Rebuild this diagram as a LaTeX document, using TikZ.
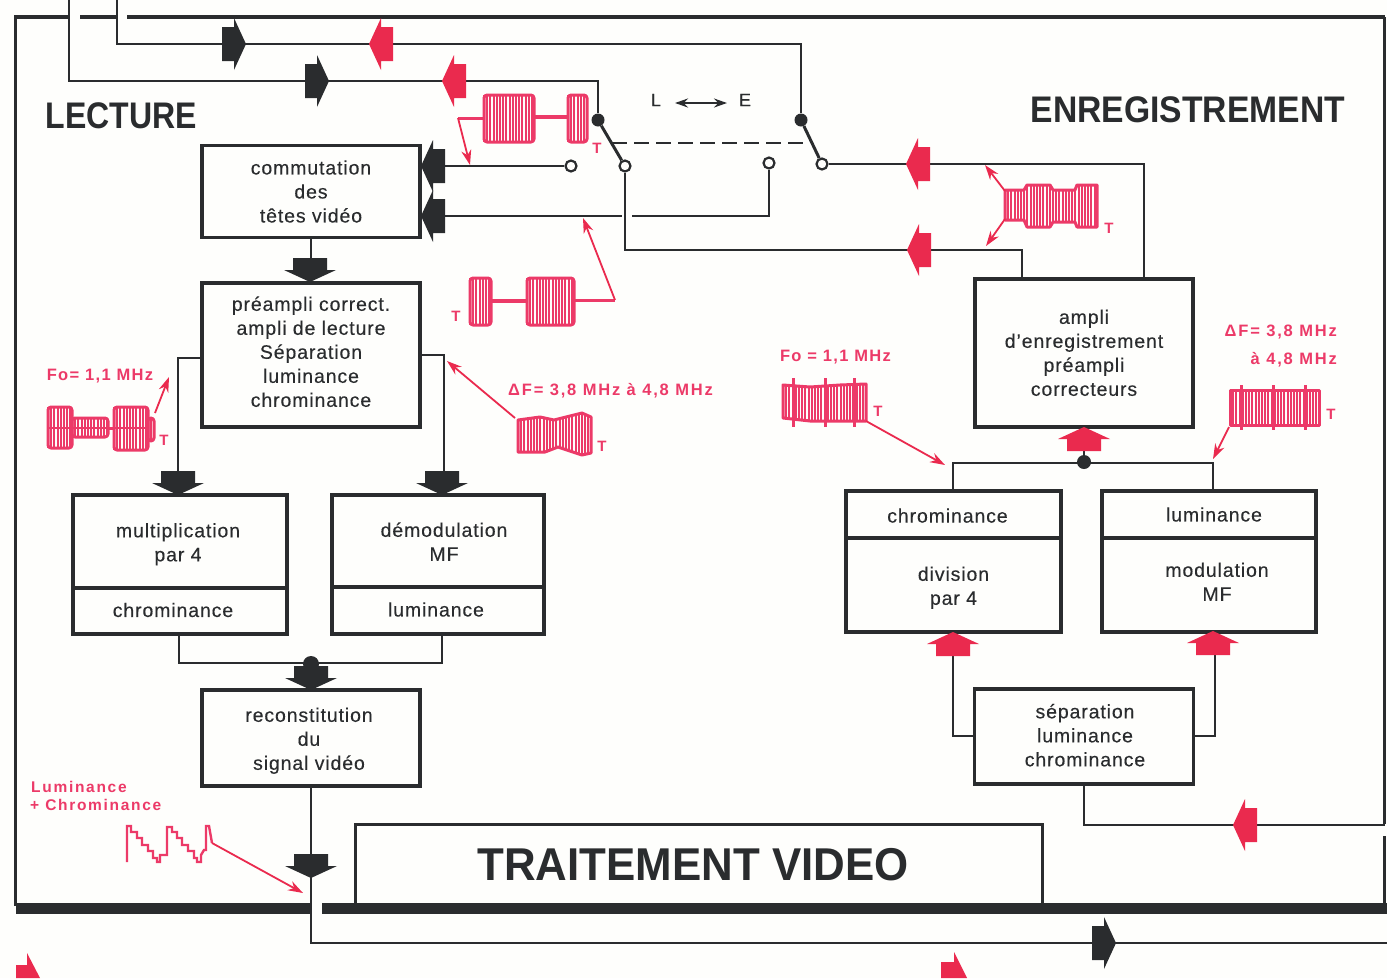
\documentclass[tikz,border=0pt]{standalone}
\usepackage{fontspec}
\usepackage{graphicx}
\setmainfont[LetterSpace=4.5,FakeBold=0.25]{Liberation Sans}
\newfontfamily\redf[LetterSpace=11]{Liberation Sans}
\newfontfamily\redg[LetterSpace=8]{Liberation Sans}
\newfontfamily\titlef{Liberation Sans}
\usetikzlibrary{arrows.meta,calc}
\definecolor{ink}{HTML}{2A2C2E}
\definecolor{red1}{HTML}{EA2A4E}
\definecolor{red2}{HTML}{EC3A68}
\definecolor{paper}{HTML}{FEFEFC}
\tikzset{
  box/.style={draw=ink,line width=3.4pt,inner sep=0pt,align=center,font=\fontsize{19.5}{24}\selectfont,text=ink,fill=paper},
  wire/.style={draw=ink,line width=2.2pt,line join=miter},
  frameline/.style={draw=ink,line width=3.8pt},
  thickline/.style={draw=ink,line width=11pt},
  blk/.style={fill=ink},
  rd/.style={fill=red1},
  barrow/.pic={\path[pic actions,draw=none] (-24,-17)--(-12,-17)--(-12,-26)--(0,0)--(-12,26)--(-12,17)--(-24,17)--cycle;},
  wave/.style={draw=red2,line width=1.9pt},
  waveout/.style={draw=red2,line width=3pt,line join=round},
  sig/.style={draw=red1,line width=1.8pt,-{Stealth[length=15pt,width=10pt]}},
  redlab/.style={text=red2,inner sep=0pt,font=\fontsize{16.5}{28}\selectfont\bfseries\redf,align=center},
  redlabb/.style={text=red2,inner sep=0pt,font=\fontsize{16.5}{28}\selectfont\bfseries\redg,align=center},
  tlab/.style={text=red2,inner sep=0pt,font=\fontsize{15}{18}\selectfont\bfseries\redf},
  title/.style={text=ink,inner sep=0pt,font=\bfseries\titlef},
  ring/.style={circle,draw=ink,line width=2.2pt,fill=paper,minimum size=11pt,inner sep=0pt},
  pivot/.style={circle,fill=ink,minimum size=13pt,inner sep=0pt},
}
% moves a box's content down by #1 pt inside its centred node
\newcommand\vsh[2]{\raisebox{0pt}[\dimexpr\height+#1pt\relax][\dimexpr\depth-#1pt\relax]{#2}}
\newcommand\lines[1]{\begin{tabular}{@{}c@{}}#1\end{tabular}}
\newcommand\burst[4]{%
  \draw[waveout,rounded corners=3pt] (#1,#3) rectangle (#2,#4);
  \pgfmathsetmacro\nextx{#1+3.2}
  \foreach \xx in {#1,\nextx,...,#2}{\draw[wave] (\xx,#3) -- (\xx,#4);}
}
\newcommand\envel[5]{%
  \begin{scope}
  \clip #1;
  \pgfmathsetmacro\nextx{#2+3.2}
  \foreach \xx in {#2,\nextx,...,#3}{\draw[wave] (\xx,#4) -- (\xx,#5);}
  \end{scope}
  \draw[waveout] #1;
}
\begin{document}
\begin{tikzpicture}[x=1pt,y=-1pt]
\useasboundingbox (0,0) rectangle (1387,978);
\fill[paper] (0,0) rectangle (1387,978);

% frame
\draw[frameline] (14,17) -- (69,17);
\draw[frameline] (80,17) -- (117,17);
\draw[frameline] (127,17) -- (1385,17);
\draw[frameline] (15.5,17) -- (15.5,906);
\draw[frameline] (1384.5,17) -- (1384.5,824);
\draw[frameline] (1384.5,836) -- (1384.5,906);

% blocks
\node[box,minimum width=218pt,minimum height=92pt] (commut) at (311,191.5) {commutation\\des\\têtes vidéo};
\node[box,minimum width=218pt,minimum height=144pt] (preampli) at (311,355) {\vsh{-1}{\lines{préampli correct.\\ampli de lecture\\Séparation\\luminance\\chrominance}}};
\node[box,minimum width=214pt,minimum height=93pt] (multi) at (180,541.5) {\vsh{3}{\lines{multiplication\\par 4}}\hspace*{4pt}};
\node[box,minimum width=214pt,minimum height=46pt] (chromL) at (180,611) {\vsh{-1}{chrominance}\hspace*{14pt}};
\node[box,minimum width=212pt,minimum height=92pt] (demod) at (438,541) {\hspace*{12pt}\vsh{3}{\lines{démodulation\\MF}}};
\node[box,minimum width=212pt,minimum height=47pt] (lumL) at (438,610.5) {\vsh{-1}{luminance}\hspace*{4pt}};
\node[box,minimum width=218pt,minimum height=96pt] (recon) at (311,738) {\vsh{3}{\lines{reconstitution\\du\\signal vidéo}}\hspace*{4pt}};
\node[box,minimum width=218pt,minimum height=148pt] (ampli) at (1084,353) {\vsh{2}{\lines{ampli\\d'enregistrement\\préampli\\correcteurs}}};
\node[box,minimum width=215pt,minimum height=47pt] (chromR) at (953.5,514.5) {\vsh{2}{chrominance}\hspace*{12pt}};
\node[box,minimum width=215pt,minimum height=94pt] (divis) at (953.5,585) {\vsh{3}{\lines{division\\par 4}}};
\node[box,minimum width=214pt,minimum height=47pt] (lumR) at (1209,514.5) {\hspace*{10pt}luminance};
\node[box,minimum width=214pt,minimum height=94pt] (modul) at (1209,585) {\hspace*{16pt}\vsh{-1}{\lines{modulation\\MF}}};
\node[box,minimum width=219pt,minimum height=95pt] (separ) at (1084,736.5) {\hspace*{2pt}\vsh{1}{\lines{séparation\\luminance\\chrominance}}};
\node[box,minimum width=687pt,minimum height=80pt,line width=3pt] (trait) at (698.5,864) {};
\node[title,font=\fontsize{46}{46}\selectfont\bfseries\titlef,xscale=.953,transform shape] (traitxt) at (693,865) {TRAITEMENT VIDEO};
\draw[thickline] (16,908) -- (311,908);
\draw[thickline] (322,908) -- (1387,908);

% titles
\node[title,font=\fontsize{37}{37}\selectfont\bfseries\titlef,xscale=.865,transform shape] (lect) at (121.5,116) {LECTURE};
\node[title,font=\fontsize{37}{37}\selectfont\bfseries\titlef,xscale=.91,transform shape] (enreg) at (1188,110) {ENREGISTREMENT};

% switch nodes
\node[pivot] (pl) at (598,120) {};
\node[pivot] (pr) at (801,120) {};
\node[ring] (cl) at (625,166) {};
\node[ring] (cr) at (822,164) {};
\node[ring] (ol) at (571,166) {};
\node[ring] (or) at (769,163) {};
\coordinate (h1) at (117,0);
\coordinate (h2) at (69,0);
\coordinate (b1) at (801,44);
\coordinate (b2) at (598,81);
\coordinate (amL) at (1022,279);
\coordinate (amR) at (1144,279);
\coordinate (vout) at (1387,943);
\coordinate (vin) at (1385,825);
\coordinate (dl) at (612,143);
\coordinate (dr) at (810,143);

% wires
\draw[wire] (h1) -- (117,44) -- (b1) -- (pr);
\draw[wire] (h2) -- (69,81) -- (b2) -- (pl);
\draw[wire] (cl) -- (625,250) -- (1022,250) -- (amL);
\draw[wire] (cr) -- (1144,164) -- (amR);
\draw[wire] (commut.east |- ol) -- (ol);
\draw[wire] (421,216) -- (622,216);
\draw[wire] (632,216) -- (769,216) -- (or);
\draw[ink,line width=3pt] (pl) -- (cl);
\draw[ink,line width=3pt] (pr) -- (cr);
\draw[wire,dash pattern=on 15pt off 7pt,line width=1.8pt] (dl) -- (dr);
\draw[wire] (commut.south) -- (preampli.north);
\draw[wire] (202,358) -- (178,358) -- (178,490);
\draw[wire] (420,355) -- (444,355) -- (444,490);
\draw[wire] (179,634) -- (179,663) -- (442,663) -- (442,634);
\draw[wire] (recon.south) -- (311,943) -- (vout);
\draw[wire] (953,491) -- (953,463) -- (1213,463) -- (1213,491);
\draw[wire] (ampli.south) -- (1084,462);
\draw[wire] (953,650) -- (953,736) -- (974,736);
\draw[wire] (1215,650) -- (1215,736) -- (1193,736);
\draw[wire] (separ.south) -- (1084,825) -- (vin);
\node[pivot,minimum size=14pt] (jr) at (1084,462) {};
\node[pivot,minimum size=16pt] (jl) at (311,664) {};

% block arrows
\pic[blk] at (246,44) {barrow};
\pic[rd,rotate=180] at (369,44) {barrow};
\pic[blk] at (329,81) {barrow};
\pic[rd,rotate=180] at (442,81) {barrow};
\pic[blk,rotate=180] at (421,166) {barrow};
\pic[blk,rotate=180] at (421,216) {barrow};
\pic[rd,rotate=180] at (906,164) {barrow};
\pic[rd,rotate=180] at (907,250) {barrow};
\pic[blk,rotate=-90] at (310,282) {barrow};
\pic[blk,rotate=-90] at (178,495) {barrow};
\pic[blk,rotate=-90] at (442,495) {barrow};
\pic[blk,rotate=-90] at (311,690) {barrow};
\pic[blk,rotate=-90] at (311,878) {barrow};
\pic[blk] at (1116,943) {barrow};
\pic[rd,rotate=90] at (1084,427) {barrow};
\pic[rd,rotate=90] at (953,632) {barrow};
\pic[rd,rotate=90] at (1213,631) {barrow};
\pic[rd,rotate=180] at (1233,825) {barrow};
\fill[red1] (16,978) -- (16,965) -- (27,965) -- (27,953) -- (40,978) -- cycle;
\fill[red1] (941,978) -- (941,962) -- (954,962) -- (954,952) -- (967,978) -- cycle;

% L <-> E
\node[text=ink,inner sep=0pt,font=\fontsize{18}{20}\selectfont] (lL) at (656,100) {L};
\node[text=ink,inner sep=0pt,font=\fontsize{18}{20}\selectfont] (lE) at (745,100) {E};
\draw[ink,line width=2.4pt,{Stealth[length=13pt,width=9pt]}-{Stealth[length=13pt,width=9pt]}] (lL) ++(19,3) coordinate (le1) -- (727,103) coordinate (le2);

% waveform A
\burst{484}{534}{95}{142}
\burst{568}{587}{95}{142}
\draw[wave,line width=3.5pt] (534,117) -- (568,117);
\draw[wave,line width=3pt] (458,118) -- (484,118);
\coordinate (aA) at (458,118);
\draw[sig] (aA) -- (470,165);
\node[tlab] (tA) at (597,148) {T};

% waveform B
\burst{470}{491}{278}{325}
\burst{527}{574}{278}{325}
\draw[wave,line width=3.5pt] (491,301) -- (527,301);
\draw[wave,line width=3pt] (574,300) -- (615,300);
\coordinate (aB) at (615,300);
\draw[sig] (aB) -- (583,218);
\node[tlab] (tB) at (456,316) {T};

% waveform C
\envel{(1005,190)--(1024,190)--(1027,185)--(1050,185)--(1053,190)--(1075,190)--(1077,185)--(1097,185)--(1097,227)--(1077,227)--(1075,222)--(1053,222)--(1050,227)--(1027,227)--(1024,220)--(1005,220)--cycle}{1005}{1098}{180}{230}
\coordinate (aC1) at (1005,191);
\coordinate (aC2) at (1005,219);
\draw[sig] (aC1) -- (985,165);
\draw[sig] (aC2) -- (986,246);
\node[tlab] (tC) at (1109,228) {T};

% waveform D
\envel{(783,385)--(810,387)--(840,385)--(866,384)--(866,421)--(840,421)--(810,421)--(783,418)--cycle}{783}{866}{380}{425}
\foreach \xx in {793,825,854}{\draw[wave,line width=3pt] (\xx,378) -- (\xx,427);}
\coordinate (aD) at (866,421);
\draw[sig] (aD) -- (945,465);
\node[tlab] (tD) at (878,411) {T};

% waveform E
\envel{(1230,390)--(1319,390)--(1319,425)--(1230,425)--cycle}{1230}{1319}{385}{430}
\foreach \xx in {1241,1273,1305}{\draw[wave,line width=3pt] (\xx,385) -- (\xx,430);}
\coordinate (aE) at (1229,427);
\draw[sig] (aE) -- (1213,459);
\node[tlab] (tE) at (1331,414) {T};

% waveform F
\burst{48}{72}{407}{448}
\burst{72}{108}{418}{437}
\draw[wave,line width=3pt] (108,428) -- (114,428);
\burst{114}{148}{407}{450}
\burst{148}{154}{418}{441}
\draw[wave,line width=2.5pt] (48,428) -- (148,428);
\coordinate (aF) at (155,413);
\draw[sig] (aF) -- (169,377);
\node[tlab] (tF) at (164,440) {T};

% waveform G
\envel{(518,420)--(540,417)--(554,420)--(570,416)--(582,413)--(591,417)--(591,453)--(582,455)--(570,451)--(558,447)--(545,452)--(518,452)--cycle}{518}{591}{410}{458}
\coordinate (aG) at (515,418);
\draw[sig] (aG) -- (447,361);
\node[tlab] (tG) at (602,446) {T};

% sawtooth
\draw[wave,line width=2.4pt,line join=miter] (127,862) -- (127,826) -- (131,826) -- (131,832) -- (137,832) -- (137,838) -- (142,838) -- (142,845) -- (148,845) -- (148,851) -- (153,851) -- (153,858) -- (157,858) -- (157,862) -- (160,862) -- (160,855) -- (167,855) -- (167,827) -- (172,827) -- (172,832) -- (177,832) -- (177,838) -- (182,838) -- (182,845) -- (188,845) -- (188,851) -- (194,851) -- (194,858) -- (197,858) -- (197,862) -- (201,862) -- (201,855) -- (204,850) -- (206,850) -- (206,826) -- (209,826) -- (212,843);
\coordinate (aS) at (212,843);
\draw[sig] (aS) -- (303,893);

% red labels
\node[redlabb] (f1) at (100,376) {Fo= 1,1 MHz};
\node[redlab] (f2) at (610.5,391) {ΔF= 3,8 MHz à 4,8 MHz};
\node[redlabb] (f3) at (835.5,357) {Fo = 1,1 MHz};
\node[redlab,anchor=north east,align=right] (f4) at (1337,325) {ΔF= 3,8 MHz\\à 4,8 MHz};
\node[redlab,anchor=north west,align=left,font=\fontsize{15.5}{18}\selectfont\bfseries\redf] (lc) at (30,781) {\hspace*{1pt}Luminance\\+ Chrominance};
\end{tikzpicture}
\end{document}
